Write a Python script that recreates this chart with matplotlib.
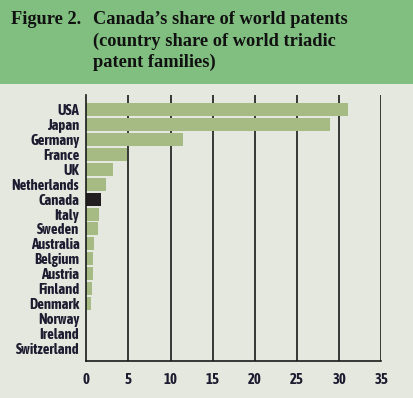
import matplotlib
matplotlib.use("Agg")
import matplotlib.pyplot as plt
from matplotlib.patches import Rectangle
from matplotlib import font_manager
from matplotlib.font_manager import FontProperties

countries = ["USA", "Japan", "Germany", "France", "UK", "Netherlands", "Canada",
             "Italy", "Sweden", "Australia", "Belgium", "Austria", "Finland",
             "Denmark", "Norway", "Ireland", "Switzerland"]
shares = [31.1, 28.9, 11.5, 4.8, 3.2, 2.3, 1.7, 1.5, 1.4, 0.9, 0.75, 0.75,
          0.65, 0.55, 0.0, 0.0, 0.0]
xticks = [0, 5, 10, 15, 20, 25, 30, 35]

BG = "#e4e8df"
BAND = "#80bf80"
BAR = "#a5bb83"
HIGHLIGHT = "#231f20"
TXT = "#1c1c30"

names = {f.name for f in font_manager.fontManager.ttflist}
if "Asap Condensed" in names:
    lab_fp = FontProperties(family=["Asap Condensed", "DejaVu Sans"], weight="bold", size=10.5)
else:
    lab_fp = FontProperties(family="DejaVu Sans", weight="bold", size=8)

fig = plt.figure(figsize=(4.13, 3.98), dpi=100, facecolor=BG)
fig.patches.append(Rectangle((0, 1 - 84 / 398), 1, 84 / 398, transform=fig.transFigure,
                             facecolor=BAND, edgecolor="none", zorder=0))
tfont = dict(family="Liberation Serif", fontweight="bold", fontsize=13.2, color="#111111")
fig.text(11 / 413, 1 - 20 / 398, "Figure 2.", va="center", ha="left", **tfont)
for i, line in enumerate(["Canada\u2019s share of world patents",
                          "(country share of world triadic",
                          "patent families)"]):
    fig.text(93 / 413, 1 - (20 + 21 * i) / 398, line, va="center", ha="left", **tfont)

ax = fig.add_axes([86.3 / 413, 37.3 / 398, 295 / 413, (360.7 - 95) / 398])
ax.set_facecolor(BG)
n = len(countries)
ypos = list(range(n))
colors = [HIGHLIGHT if c == "Canada" else BAR for c in countries]
ax.barh(ypos, shares, height=0.87, color=colors, zorder=3)
ax.set_xlim(0, 35)
ax.set_ylim(n - 1 + 0.85, -1.0)
ax.set_xticks(xticks)
ax.set_xticklabels([str(t) for t in xticks], fontproperties=lab_fp, color=TXT)
ax.set_yticks(ypos)
ax.set_yticklabels(countries, fontproperties=lab_fp, color=TXT)
ax.tick_params(axis="y", length=0, pad=5)
ax.tick_params(axis="x", length=0, pad=9)
for t in xticks[1:]:
    ax.axvline(t, color="#1a1a1a", lw=1.2, zorder=2)
for s in ["top", "right"]:
    ax.spines[s].set_visible(False)
for s in ["left", "bottom"]:
    ax.spines[s].set_color("#1a1a1a")
    ax.spines[s].set_linewidth(1.2)
    ax.spines[s].set_zorder(4)

fig.savefig("out.png", dpi=100, facecolor=BG)
